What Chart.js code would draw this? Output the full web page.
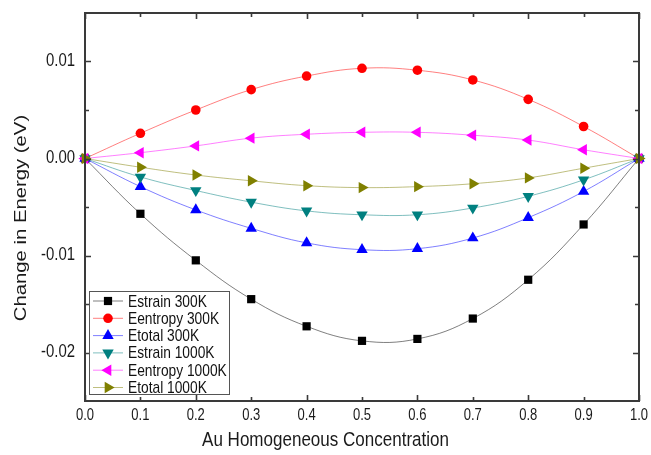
<!DOCTYPE html>
<html><head><meta charset="utf-8">
<script src="https://cdn.jsdelivr.net/npm/chart.js@4"></script>
<style>html,body{margin:0;padding:0;background:#fff}</style>
</head><body>
<canvas id="c" width="651" height="455" style="display:block"></canvas>
<script>
// ---- data ----
const concentration = [0, 0.1, 0.2, 0.3, 0.4, 0.5, 0.6, 0.7, 0.8, 0.9, 1.0];
const seriesNames = ['Estrain 300K', 'Eentropy 300K', 'Etotal 300K', 'Estrain 1000K', 'Eentropy 1000K', 'Etotal 1000K'];
const estrain300   = [0, -0.0057, -0.0105, -0.0145, -0.0173, -0.0188, -0.0186, -0.0165, -0.0125, -0.0068, 0];
const eentropy300  = [0,  0.0026,  0.0050,  0.0071,  0.0085,  0.0093,  0.0091,  0.0081,  0.0061,  0.0033, 0];
const etotal300    = [0, -0.0029, -0.0053, -0.0072, -0.0087, -0.0094, -0.0093, -0.0082, -0.0061, -0.0034, 0];
const estrain1000  = [0, -0.0019, -0.0033, -0.0045, -0.0054, -0.0058, -0.0058, -0.0051, -0.0039, -0.0022, 0];
const eentropy1000 = [0,  0.0006,  0.0013,  0.0021,  0.0025,  0.0027,  0.0027,  0.0024,  0.0019,  0.0009, 0];
const etotal1000   = [0, -0.0009, -0.0017, -0.0023, -0.0028, -0.0030, -0.0029, -0.0026, -0.0020, -0.0010, 0];
const xTickValues = [0, 0.1, 0.2, 0.3, 0.4, 0.5, 0.6, 0.7, 0.8, 0.9, 1.0];
const xTickLabels = ['0.0', '0.1', '0.2', '0.3', '0.4', '0.5', '0.6', '0.7', '0.8', '0.9', '1.0'];
const xMajorTicks = [0, 0.2, 0.4, 0.6, 0.8, 1.0];
const xMinorTicks = [0.1, 0.3, 0.5, 0.7, 0.9];
const yTickValues = [-0.02, -0.01, 0, 0.01];
const yTickLabels = ['-0.02', '-0.01', '0.00', '0.01'];
const yMinorTicks = [-0.015, -0.005, 0.005];
const xTitle = 'Au Homogeneous Concentration';
const yTitle = 'Change in Energy (eV)';

// ---- styles ----
const allSeries = [estrain300, eentropy300, etotal300, estrain1000, eentropy1000, etotal1000];
const markerColors = ['#000000', '#ff0000', '#0000ff', '#008080', '#ff00ff', '#808000'];
const lineColors = ['rgba(0,0,0,0.5)', 'rgba(255,0,0,0.5)', 'rgba(0,0,255,0.5)', 'rgba(0,128,128,0.5)', 'rgba(255,0,255,0.5)', 'rgba(128,128,0,0.5)'];
const markerStyles = ['rect', 'circle', 'triangle', 'triangle', 'triangle', 'triangle'];
const markerRot = [0, 0, 0, 180, -90, 90];
const markerRad = [5.8, 4.8, 6.6, 6.6, 6.6, 6.6];
const FONT = "'Liberation Sans', Arial, sans-serif";
const SQX = 0.83;   // horizontal squeeze of the lettering in the original picture
const TXT = '#1a1a1a';

const datasets = allSeries.map((vals, i) => ({
  label: seriesNames[i],
  data: concentration.map((x, j) => ({x: x, y: vals[j]})),
  borderColor: lineColors[i],
  backgroundColor: markerColors[i],
  borderWidth: 1,
  pointStyle: markerStyles[i],
  rotation: markerRot[i],
  pointRadius: markerRad[i],
  pointBorderWidth: 0,
  pointBorderColor: markerColors[i],
  pointBackgroundColor: markerColors[i],
  tension: 0.4,
  clip: false,
  order: 6 - i
}));

function drawMarker(ctx, style, rot, r, x, y, color) {
  ctx.save();
  ctx.fillStyle = color;
  ctx.beginPath();
  if (style === 'rect') {
    const s = Math.SQRT1_2 * r;
    ctx.rect(x - s, y - s, 2 * s, 2 * s);
  } else if (style === 'circle') {
    ctx.arc(x, y, r, 0, Math.PI * 2);
  } else {
    let a = rot * Math.PI / 180;
    ctx.moveTo(x + Math.sin(a) * r, y - Math.cos(a) * r);
    a += 2 * Math.PI / 3;
    ctx.lineTo(x + Math.sin(a) * r, y - Math.cos(a) * r);
    a += 2 * Math.PI / 3;
    ctx.lineTo(x + Math.sin(a) * r, y - Math.cos(a) * r);
    ctx.closePath();
  }
  ctx.fill();
  ctx.restore();
}

function squeezedText(ctx, text, x, y, size, align, color, rotate) {
  ctx.save();
  ctx.translate(x, y);
  if (rotate) {
    ctx.rotate(-Math.PI / 2);
    ctx.scale(1, SQX);
  } else {
    ctx.scale(SQX, 1);
  }
  ctx.font = size + 'px ' + FONT;
  ctx.fillStyle = color;
  ctx.textAlign = align;
  ctx.textBaseline = 'middle';
  ctx.fillText(text, 0, 0);
  ctx.restore();
}

const framePlugin = {
  id: 'frame',
  afterDatasetsDraw(chart) {
    const ctx = chart.ctx, a = chart.chartArea;
    const xs = chart.scales.x, ys = chart.scales.y;
    ctx.save();
    ctx.strokeStyle = '#3a3a3a';
    ctx.lineWidth = 1.6;
    ctx.beginPath();
    const tick = (v, len, horiz) => {
      if (horiz) {
        const px = Math.round(xs.getPixelForValue(v)) + 0.5;
        ctx.moveTo(px, a.bottom); ctx.lineTo(px, a.bottom - len);
        ctx.moveTo(px, a.top); ctx.lineTo(px, a.top + len);
      } else {
        const py = Math.round(ys.getPixelForValue(v)) + 0.5;
        ctx.moveTo(a.left, py); ctx.lineTo(a.left + len, py);
        ctx.moveTo(a.right, py); ctx.lineTo(a.right - len, py);
      }
    };
    xMajorTicks.forEach(v => tick(v, 6, true));
    xMinorTicks.forEach(v => tick(v, 4, true));
    yTickValues.forEach(v => tick(v, 6, false));
    yMinorTicks.forEach(v => tick(v, 4, false));
    ctx.stroke();
    ctx.lineWidth = 2;
    ctx.strokeRect(a.left, a.top, a.right - a.left, a.bottom - a.top);
    ctx.restore();

    // tick labels, placed by the chart's own scales
    xTickValues.forEach((v, i) => squeezedText(ctx, xTickLabels[i], xs.getPixelForValue(v), a.bottom + 15, 15.7, 'center', TXT));
    yTickValues.forEach((v, i) => squeezedText(ctx, yTickLabels[i], a.left - 10, ys.getPixelForValue(v), 18, 'right', TXT));

    // axis titles
    squeezedText(ctx, xTitle, chart.width / 2, 440, 20.5, 'center', TXT);
    squeezedText(ctx, yTitle, 21, 218, 20.3, 'center', TXT, true);

    // legend inside plot, lower-left
    const bx = a.left + 4, by = a.bottom - 110, bw = 140, bh = 103;
    ctx.save();
    ctx.fillStyle = '#fff';
    ctx.fillRect(bx, by, bw, bh);
    ctx.strokeStyle = '#555';
    ctx.lineWidth = 1;
    ctx.strokeRect(bx + 0.5, by + 0.5, bw, bh);
    seriesNames.forEach((name, i) => {
      const ry = by + 10 + i * 17.3;
      ctx.strokeStyle = lineColors[i];
      ctx.beginPath();
      ctx.moveTo(bx + 4, ry); ctx.lineTo(bx + 34, ry);
      ctx.stroke();
      drawMarker(ctx, markerStyles[i], markerRot[i], markerRad[i], bx + 19, ry, markerColors[i]);
      squeezedText(ctx, name, bx + 39, ry + 1, 16.6, 'left', '#111');
    });
    ctx.restore();
  }
};

const zeroPad = s => { s.paddingTop = 0; s.paddingBottom = 0; s.paddingLeft = 0; s.paddingRight = 0; };

new Chart(document.getElementById('c'), {
  type: 'line',
  data: {datasets: datasets},
  plugins: [framePlugin],
  options: {
    responsive: false,
    animation: false,
    devicePixelRatio: 1,
    layout: {padding: {left: 0, top: 13, right: 12, bottom: 0}},
    plugins: {legend: {display: false}, tooltip: {enabled: false}},
    scales: {
      x: {
        type: 'linear', min: 0, max: 1,
        grid: {display: false, drawTicks: false},
        border: {display: false},
        afterBuildTicks: s => { s.ticks = xTickValues.map(v => ({value: v})); },
        afterFit: s => { s.height = 54; zeroPad(s); },
        ticks: {display: false},
        title: {display: false}
      },
      y: {
        type: 'linear', min: -0.025, max: 0.015,
        grid: {display: false, drawTicks: false},
        border: {display: false},
        afterBuildTicks: s => { s.ticks = yTickValues.map(v => ({value: v})); },
        afterFit: s => { s.width = 85; zeroPad(s); },
        ticks: {display: false},
        title: {display: false}
      }
    }
  }
});
</script>
</body></html>
